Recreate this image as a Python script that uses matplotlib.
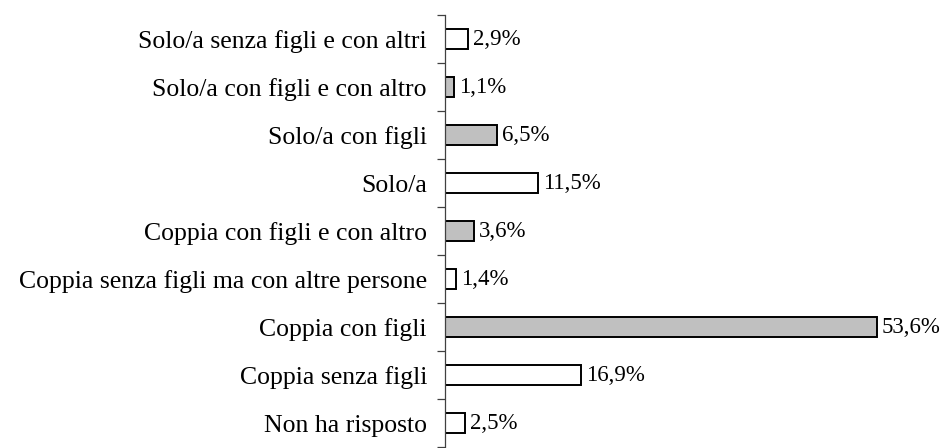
import numpy as np
import matplotlib.pyplot as plt

categorie = ['Solo/a senza figli e con altri', 'Solo/a con figli e con altro',
             'Solo/a con figli', 'Solo/a', 'Coppia con figli e con altro',
             'Coppia senza figli ma con altre persone', 'Coppia con figli',
             'Coppia senza figli', 'Non ha risposto']
valori = [2.9, 1.1, 6.5, 11.5, 3.6, 1.4, 53.6, 16.9, 2.5]
con_figli = [False, True, True, False, True, False, True, False, False]

plt.rcParams['font.family'] = ['Liberation Serif', 'DejaVu Serif']

fig = plt.figure(figsize=(9.43, 4.48), dpi=100)
ax = fig.add_axes([445/943, 0.0, 498/943, (448-15)/448])

y = np.arange(len(categorie))
colori = ['#c0c0c0' if f else 'white' for f in con_figli]
ax.barh(y, valori, height=0.43, color=colori, edgecolor='black', linewidth=1.4)

for yi, v in zip(y, valori):
    ax.annotate(('%.1f' % v).replace('.', ',') + '%', xy=(v, yi), xytext=(3.5, 0),
                textcoords='offset points', va='center', ha='left', fontsize=16.5)

ax.set_ylim(len(categorie) - 0.5 + 0.02, -0.5)
ax.set_xlim(0, 498/8.06)

ax.set_yticks(y)
ax.set_yticklabels(categorie, fontsize=18.5)
ax.set_yticks(np.arange(len(categorie) + 1) - 0.5, minor=True)
ax.tick_params(axis='y', which='major', length=0, pad=13)
ax.tick_params(axis='y', which='minor', length=6, width=0.9, color='#404040', direction='out')
ax.set_xticks([])

for s in ['top', 'right', 'bottom']:
    ax.spines[s].set_visible(False)
ax.spines['left'].set_color('#404040')
ax.spines['left'].set_linewidth(0.9)

fig.savefig('out.png', dpi=100)
